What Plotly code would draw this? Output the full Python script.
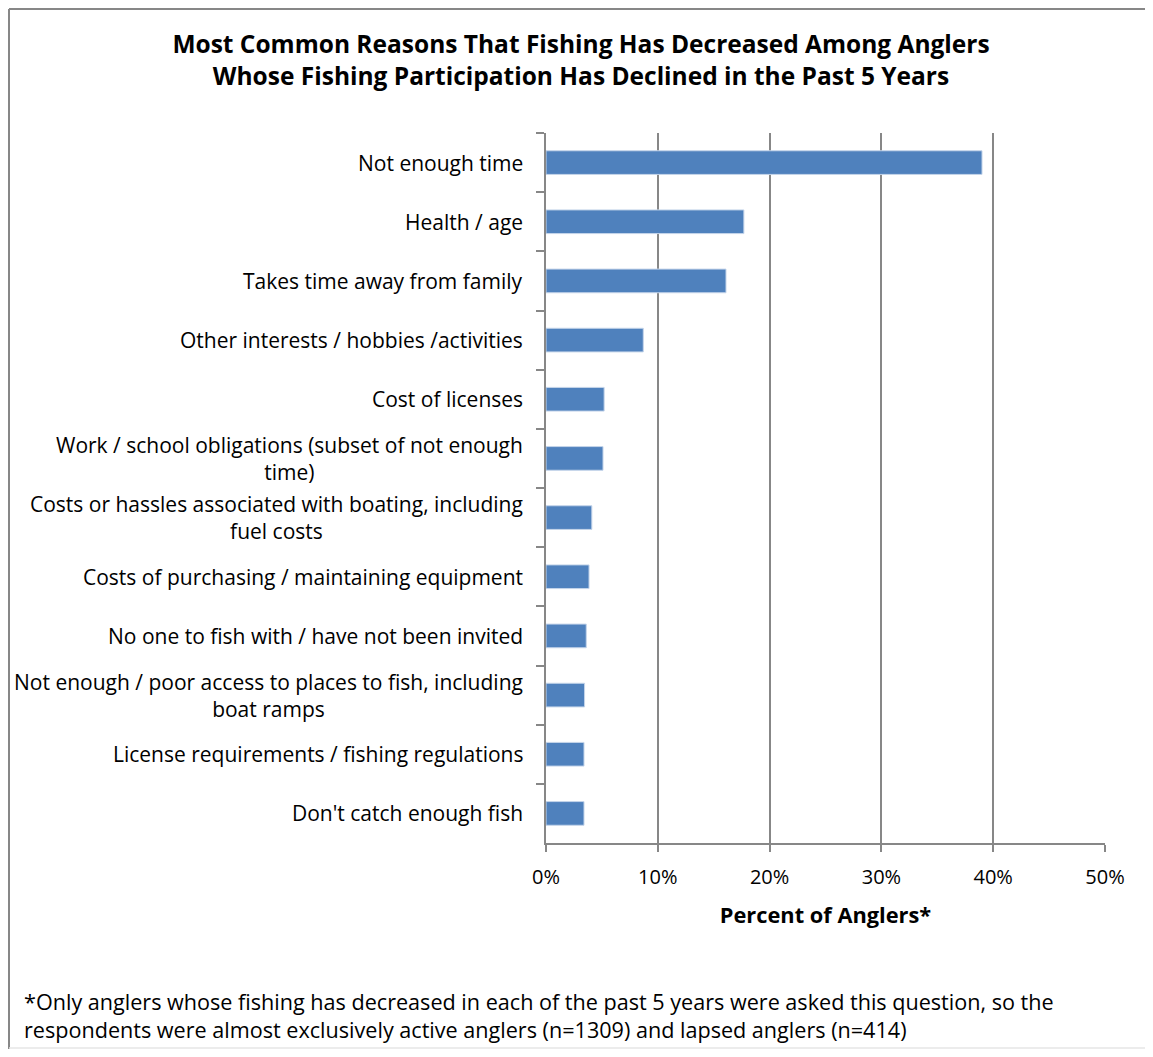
import plotly.graph_objects as go

categories = [
    "Not enough time",
    "Health / age",
    "Takes time away from family",
    "Other interests / hobbies /activities",
    "Cost of licenses",
    "Work / school obligations (subset of not enough<br>time)",
    "Costs or hassles associated with boating, including<br>fuel costs",
    "Costs of purchasing / maintaining equipment",
    "No one to fish with / have not been invited",
    "Not enough / poor access to places to fish, including<br>boat ramps",
    "License requirements / fishing regulations",
    "Don't catch enough fish",
]
values = [39.0, 17.7, 16.1, 8.7, 5.2, 5.1, 4.1, 3.85, 3.6, 3.45, 3.4, 3.4]
x_tick_vals = [0, 10, 20, 30, 40, 50]
x_tick_text = ["0%", "10%", "20%", "30%", "40%", "50%"]

title_text = ("<b>Most Common Reasons That Fishing Has Decreased Among Anglers<br>"
              "Whose Fishing Participation Has Declined in the Past 5 Years</b>")
footnote = ("*Only anglers whose fishing has decreased in each of the past 5 years were asked this question, so the<br>"
            "respondents were almost exclusively active anglers (n=1309) and lapsed anglers (n=414)")

FONT = "Open Sans"
GRAY = "#878787"

# page body has an 8px margin, so figure coordinates are screen - 8
W, H = 1137, 1041
L, R, T, B = 538, 1097, 125, 835
pw, ph = R - L, B - T


def px_x(p):
    return (p - L) / pw


def px_y(p):
    return (B - p) / ph


fig = go.Figure()
fig.add_trace(go.Bar(
    x=values, y=categories, orientation="h",
    marker=dict(color="#4F81BD", line=dict(color="#C5D5EA", width=1)),
    width=0.4,
))

annotations = []
for c in categories:
    annotations.append(dict(
        x=0, xref="paper", y=c, yref="y", text=c, showarrow=False,
        xanchor="right", yanchor="middle", align="center", xshift=-21,
        font=dict(family=FONT, size=21, color="#000000"),
    ))
annotations.append(dict(
    x=px_x(14), xref="paper", y=px_y(1008), yref="paper",
    text=footnote, showarrow=False, xanchor="left", yanchor="middle", align="left",
    font=dict(family=FONT, size=21.6, color="#000000"),
))

frame = [
    dict(type="line", xref="paper", yref="paper",
         x0=px_x(1), x1=px_x(W + 5), y0=px_y(1), y1=px_y(1),
         line=dict(color=GRAY, width=2), layer="below"),
    dict(type="line", xref="paper", yref="paper",
         x0=px_x(1), x1=px_x(1), y0=px_y(1), y1=px_y(H + 5),
         line=dict(color=GRAY, width=2), layer="below"),
    dict(type="line", xref="paper", yref="paper",
         x0=px_x(1), x1=px_x(W + 5), y0=px_y(H - 1), y1=px_y(H - 1),
         line=dict(color="#E6E6E6", width=1.5), layer="below"),
]

fig.update_layout(
    width=W, height=H,
    margin=dict(l=L, r=W - R, t=T, b=H - B),
    paper_bgcolor="white", plot_bgcolor="white",
    showlegend=False,
    title=dict(text=title_text, x=573 / W, xref="container", xanchor="center",
               y=1 - 45 / H, yref="container", yanchor="middle",
               font=dict(family=FONT, size=24.5, color="#000000")),
    xaxis=dict(
        range=[0, 50], tickvals=x_tick_vals, ticktext=x_tick_text,
        showgrid=True, gridcolor=GRAY, gridwidth=1.5,
        zeroline=False, showline=True, linecolor=GRAY, linewidth=1.5,
        ticks="outside", ticklen=7, tickcolor=GRAY, tickwidth=1.5,
        ticklabelstandoff=8,
        tickfont=dict(family=FONT, size=20, color="#000000"),
        title=dict(text="<b>Percent of Anglers*</b>", standoff=19,
                   font=dict(family=FONT, size=21.8, color="#000000")),
    ),
    yaxis=dict(
        type="category", autorange="reversed",
        showticklabels=False, showgrid=False, zeroline=False,
        showline=True, linecolor=GRAY, linewidth=1.5,
        ticks="outside", tickson="boundaries", ticklen=8, tickcolor=GRAY, tickwidth=1.5,
    ),
    annotations=annotations,
    shapes=frame,
)

fig.write_html("out.html")
